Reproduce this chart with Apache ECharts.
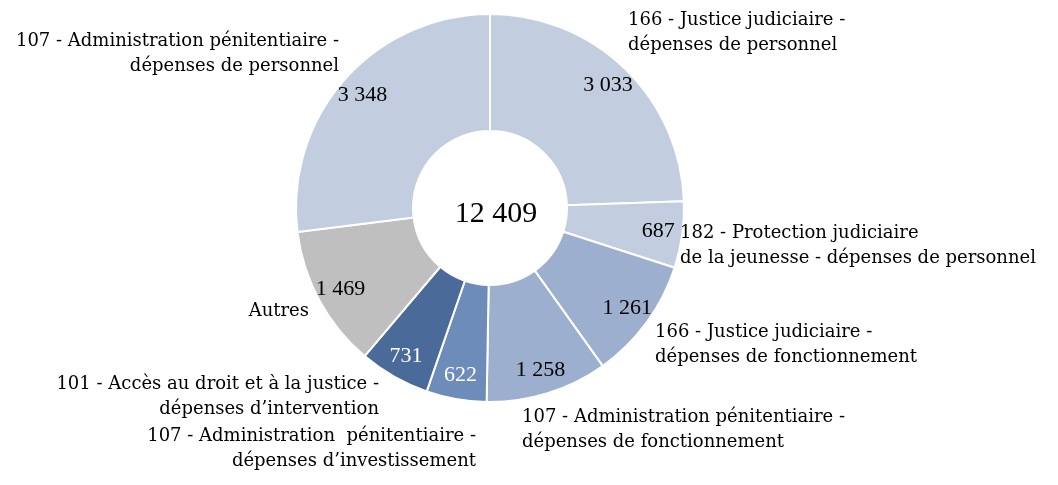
<!DOCTYPE html>
<html>
<head>
<meta charset="utf-8">
<script src="https://cdn.jsdelivr.net/npm/echarts@6/dist/echarts.min.js"></script>
<style>html,body{margin:0;padding:0;background:#fff;}#c{width:1058px;height:485px;}</style>
</head>
<body>
<div id="c"></div>
<script>
const categories = [
  "166 - Justice judiciaire -\ndépenses de personnel",
  "182 - Protection judiciaire\nde la jeunesse - dépenses de personnel",
  "166 - Justice judiciaire -\ndépenses de fonctionnement",
  "107 - Administration pénitentiaire -\ndépenses de fonctionnement",
  "107 - Administration  pénitentiaire -\ndépenses d’investissement",
  "101 - Accès au droit et à la justice -\ndépenses d’intervention",
  "Autres",
  "107 - Administration pénitentiaire -\ndépenses de personnel"
];
const values = [3033, 687, 1261, 1258, 622, 731, 1469, 3348];
const colors = ["#c3cde0", "#c3cde0", "#9dafce", "#9dafce", "#6e8cba", "#4a6a9a", "#bfbfbf", "#c3cde0"];
const valueLabelColors = ["#000", "#000", "#000", "#000", "#fff", "#fff", "#000", "#000"];
// label anchor positions (styling)
const nameLabelPos = [
  [628, 8, "left"], [680, 221, "left"], [655, 320, "left"], [522, 405, "left"],
  [476, 424, "right"], [379, 372, "right"], [309, 299, "right"], [339, 29, "right"]
];

const fmt = v => String(v).replace(/\B(?=(\d{3})+(?!\d))/g, " ");
const total = values.reduce((a, b) => a + b, 0);
const FONT = "DejaVu Serif";
const NUMFONT = "Liberation Serif";

const chart = echarts.init(document.getElementById('c'));
chart.setOption({
  animation: false,
  title: {
    text: fmt(total), left: 491, top: 209, textAlign: 'center', textVerticalAlign: 'middle',
    textStyle: {fontFamily: NUMFONT, fontSize: 30, fontWeight: 'normal', color: '#000'}
  },
  series: [
    {
      type: 'pie', center: [490, 208], radius: [77, 194], startAngle: 90, clockwise: true,
      silent: true,
      data: categories.map((n, i) => ({name: n, value: values[i], itemStyle: {color: colors[i]}})),
      itemStyle: {borderColor: '#fff', borderWidth: 2},
      label: {show: true, position: 'outside', formatter: p => p.name, overflow: 'none',
        width: 500, fontFamily: FONT, fontSize: 18, lineHeight: 25, color: '#000'},
      labelLine: {show: false},
      labelLayout: p => ({x: nameLabelPos[p.dataIndex][0], y: nameLabelPos[p.dataIndex][1],
        align: nameLabelPos[p.dataIndex][2], verticalAlign: 'top'})
    },
    {
      type: 'pie', center: [490, 208], radius: [140, 194], startAngle: 90, clockwise: true,
      silent: true,
      data: categories.map((n, i) => ({name: n, value: values[i],
        label: {color: valueLabelColors[i]}})),
      itemStyle: {color: 'rgba(0,0,0,0)', borderWidth: 0},
      label: {show: true, position: 'inside', formatter: p => fmt(p.value),
        fontFamily: NUMFONT, fontSize: 22},
      labelLine: {show: false}
    }
  ]
});
</script>
</body>
</html>
